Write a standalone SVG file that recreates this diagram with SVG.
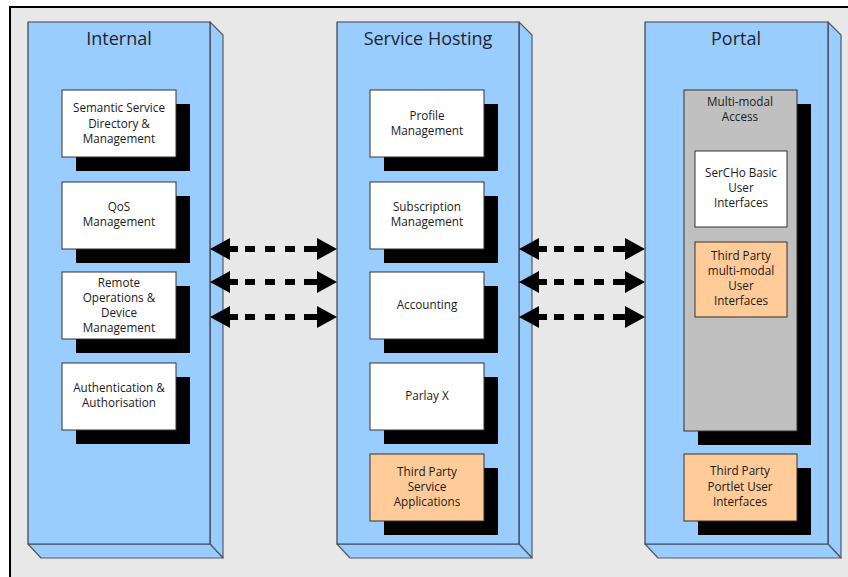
<svg xmlns="http://www.w3.org/2000/svg" width="848" height="577" viewBox="0 0 848 577">
<style>
  .bg{fill:#e8e8e8}
  .frame{stroke:#000;stroke-width:2;fill:none}
  .face{fill:#99ccff;stroke:#3a3f48;stroke-width:1.2;stroke-linejoin:round}
  .side{fill:#99ccff;stroke:#555a62;stroke-width:1.2;stroke-linejoin:round}
  .title{font-family:"Open Sans","Noto Sans","DejaVu Sans",sans-serif;font-size:18px;fill:#1e2530;text-anchor:middle}
  .lbl{font-family:"Open Sans","Noto Sans","DejaVu Sans",sans-serif;font-size:11.7px;fill:#1a1a1a;text-anchor:middle}
  .box{fill:#ffffff;stroke:#333;stroke-width:1}
  .org{fill:#ffcc99;stroke:#333;stroke-width:1}
  .gry{fill:#c0c0c0;stroke:#333;stroke-width:1}
  .shd{fill:#000}
  .conn line{stroke:#000;stroke-width:6;fill:none;marker-start:url(#ah);marker-end:url(#ah)}
</style>
<defs>
  <marker id="ah" markerUnits="userSpaceOnUse" markerWidth="21" markerHeight="24" refX="0" refY="12" orient="auto-start-reverse" viewBox="0 0 21 24">
    <path d="M0,1 L20,12 L0,23 Z" fill="#000"/>
  </marker>
</defs>
<rect x="0" y="0" width="848" height="577" fill="#ffffff"/>
<rect class="bg" x="10" y="7" width="838" height="570"/>
<path class="frame" d="M10,577 L10,7 L848,7"/>

<g id="col-internal">
  <polygon class="side" points="210,22 223,35 223,558 210,544"/>
  <polygon class="side" points="28,544 210,544 223,558 41,558"/>
  <rect class="face" x="28" y="22" width="182" height="522"/>
  <text class="title" x="119" y="45">Internal</text>
</g>
<g id="col-service">
  <polygon class="side" points="519,22 532,35 532,558 519,544"/>
  <polygon class="side" points="337,544 519,544 532,558 350,558"/>
  <rect class="face" x="337" y="22" width="182" height="522"/>
  <text class="title" x="428" y="45">Service Hosting</text>
</g>
<g id="col-portal">
  <polygon class="side" points="828,22 841,35 841,558 828,544"/>
  <polygon class="side" points="645,544 828,544 841,558 658,558"/>
  <rect class="face" x="645" y="22" width="183" height="522"/>
  <text class="title" x="736" y="45">Portal</text>
</g>

<g id="n-semantic">
  <rect class="shd" x="76" y="104" width="114" height="67"/>
  <rect class="box" x="62" y="90" width="114" height="67"/>
  <text class="lbl" x="119" y="112">Semantic Service</text>
  <text class="lbl" x="119" y="128">Directory &amp;</text>
  <text class="lbl" x="119" y="143">Management</text>
</g>
<g id="n-qos">
  <rect class="shd" x="76" y="196" width="114" height="67"/>
  <rect class="box" x="62" y="182" width="114" height="67"/>
  <text class="lbl" x="119" y="211">QoS</text>
  <text class="lbl" x="119" y="226">Management</text>
</g>
<g id="n-remote">
  <rect class="shd" x="76" y="286" width="114" height="67"/>
  <rect class="box" x="62" y="272" width="114" height="67"/>
  <text class="lbl" x="119" y="287">Remote</text>
  <text class="lbl" x="119" y="302">Operations &amp;</text>
  <text class="lbl" x="119" y="317">Device</text>
  <text class="lbl" x="119" y="332">Management</text>
</g>
<g id="n-auth">
  <rect class="shd" x="76" y="377" width="114" height="67"/>
  <rect class="box" x="62" y="363" width="114" height="67"/>
  <text class="lbl" x="119" y="392">Authentication &amp;</text>
  <text class="lbl" x="119" y="407">Authorisation</text>
</g>

<g id="n-profile">
  <rect class="shd" x="384" y="104" width="114" height="67"/>
  <rect class="box" x="370" y="90" width="114" height="67"/>
  <text class="lbl" x="427" y="120">Profile</text>
  <text class="lbl" x="427" y="135">Management</text>
</g>
<g id="n-subscription">
  <rect class="shd" x="384" y="196" width="114" height="67"/>
  <rect class="box" x="370" y="182" width="114" height="67"/>
  <text class="lbl" x="427" y="211">Subscription</text>
  <text class="lbl" x="427" y="226">Management</text>
</g>
<g id="n-accounting">
  <rect class="shd" x="384" y="286" width="114" height="67"/>
  <rect class="box" x="370" y="272" width="114" height="67"/>
  <text class="lbl" x="427" y="309">Accounting</text>
</g>
<g id="n-parlay">
  <rect class="shd" x="384" y="377" width="114" height="67"/>
  <rect class="box" x="370" y="363" width="114" height="67"/>
  <text class="lbl" x="427" y="400">Parlay X</text>
</g>
<g id="n-tpservice">
  <rect class="shd" x="384" y="468" width="114" height="67"/>
  <rect class="org" x="370" y="454" width="114" height="67"/>
  <text class="lbl" x="427" y="476">Third Party</text>
  <text class="lbl" x="427" y="491">Service</text>
  <text class="lbl" x="427" y="506">Applications</text>
</g>

<g id="n-multimodal">
  <rect class="shd" x="698" y="104" width="113" height="341"/>
  <rect class="gry" x="684" y="90" width="113" height="341"/>
  <text class="lbl" x="740" y="106">Multi-modal</text>
  <text class="lbl" x="740" y="121">Access</text>
</g>
<g id="n-sercho">
  <rect class="box" x="695" y="151" width="92" height="76"/>
  <text class="lbl" x="741" y="177">SerCHo Basic</text>
  <text class="lbl" x="741" y="192">User</text>
  <text class="lbl" x="741" y="207">Interfaces</text>
</g>
<g id="n-tpmulti">
  <rect class="org" x="695" y="242" width="92" height="75"/>
  <text class="lbl" x="741" y="260">Third Party</text>
  <text class="lbl" x="741" y="275">multi-modal</text>
  <text class="lbl" x="741" y="290">User</text>
  <text class="lbl" x="741" y="305">Interfaces</text>
</g>
<g id="n-portlet">
  <rect class="shd" x="698" y="468" width="113" height="67"/>
  <rect class="org" x="684" y="454" width="113" height="67"/>
  <text class="lbl" x="740" y="475">Third Party</text>
  <text class="lbl" x="740" y="491">Portlet User</text>
  <text class="lbl" x="740" y="506">Interfaces</text>
</g>

<g id="connectors" class="conn">
  <line x1="230" y1="249" x2="317" y2="249" stroke-dasharray="8 7 10 10 10 10 10 9 13"/>
  <line x1="230" y1="282" x2="317" y2="282" stroke-dasharray="8 7 10 10 10 10 10 9 13"/>
  <line x1="230" y1="317" x2="317" y2="317" stroke-dasharray="8 7 10 10 10 10 10 9 13"/>
  <line x1="539" y1="249" x2="625" y2="249" stroke-dasharray="8 7 10 10 10 10 10 9 12"/>
  <line x1="539" y1="282" x2="625" y2="282" stroke-dasharray="8 7 10 10 10 10 10 9 12"/>
  <line x1="539" y1="317" x2="625" y2="317" stroke-dasharray="8 7 10 10 10 10 10 9 12"/>
</g>
</svg>
